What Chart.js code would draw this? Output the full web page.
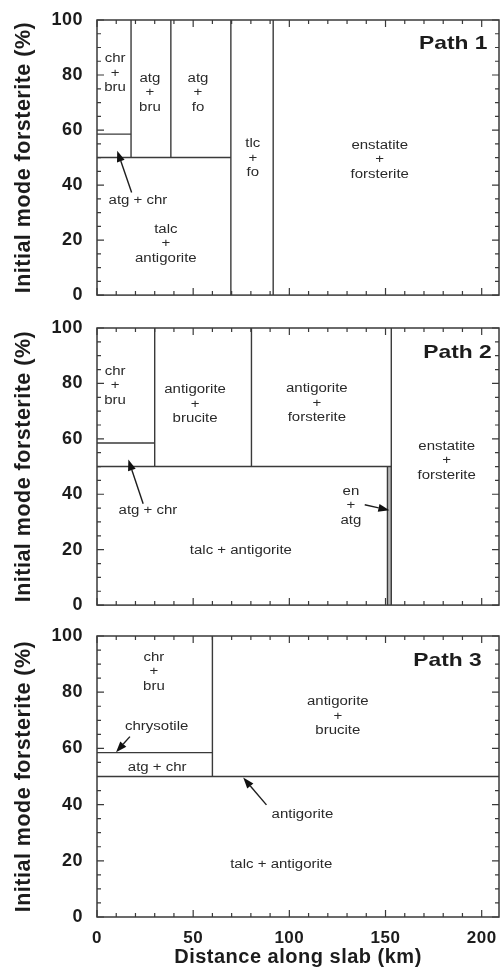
<!DOCTYPE html>
<html>
<head>
<meta charset="utf-8">
<script src="https://cdn.jsdelivr.net/npm/chart.js@4"></script>
<style>
  html, body { margin: 0; padding: 0; background: #fff; }
  body { width: 503px; height: 974px; position: relative; overflow: hidden; }
  canvas { position: absolute; left: 0; }
</style>
</head>
<body>
<canvas id="path1" width="503" height="310" style="top:0px;width:503px;height:310px"></canvas>
<canvas id="path2" width="503" height="310" style="top:310px;width:503px;height:310px"></canvas>
<canvas id="path3" width="503" height="354" style="top:620px;width:503px;height:354px"></canvas>
<script>
// Axis ranges and tick spacing
const xRange = [0, 209];
const yRange = [0, 100];
const xTickStep = 10;
const xLabelEvery = 50;
const yTickStep = 5;
const yLabelEvery = 20;
const xTitle = 'Distance along slab (km)';
const yTitle = 'Initial mode forsterite (%)';
const pathNames = ['Path 1', 'Path 2', 'Path 3'];

// Field boundaries, each [x1, y1, x2, y2] in km and % forsterite
const path1Lines = [
  [0, 58.5, 17.7, 58.5],
  [0, 50, 69.6, 50],
  [17.7, 50, 17.7, 100],
  [38.4, 50, 38.4, 100],
  [69.6, 0, 69.6, 100],
  [91.6, 0, 91.6, 100]
];
const path2Lines = [
  [0, 58.5, 30, 58.5],
  [0, 50, 153, 50],
  [30, 50, 30, 100],
  [80.3, 50, 80.3, 100],
  [151, 0, 151, 50],
  [153, 0, 153, 100]
];
const path3Lines = [
  [0, 58.5, 60, 58.5],
  [0, 50, 209, 50],
  [60, 50, 60, 100]
];

// Narrow en + atg field on path 2: [xFrom, xTo, yFrom, yTo]
const path2Strip = [151, 153, 0, 50];

// Field labels: [x, y, text lines]
const path1Labels = [
  [9.4, 80.6, ['chr', '+', 'bru']],
  [27.5, 73.5, ['atg', '+', 'bru']],
  [52.5, 73.5, ['atg', '+', 'fo']],
  [81, 49.8, ['tlc', '+', 'fo']],
  [147, 49.1, ['enstatite', '+', 'forsterite']],
  [21.3, 34.4, ['atg + chr']],
  [35.8, 18.6, ['talc', '+', 'antigorite']]
];
const path2Labels = [
  [9.4, 79.2, ['chr', '+', 'bru']],
  [51, 72.5, ['antigorite', '+', 'brucite']],
  [114.3, 72.8, ['antigorite', '+', 'forsterite']],
  [181.8, 52, ['enstatite', '+', 'forsterite']],
  [132, 35.8, ['en', '+', 'atg']],
  [74.8, 19.8, ['talc + antigorite']],
  [26.5, 34.1, ['atg + chr']]
];
const path3Labels = [
  [29.6, 87.3, ['chr', '+', 'bru']],
  [31, 67.7, ['chrysotile']],
  [31.3, 53.1, ['atg + chr']],
  [125.2, 71.5, ['antigorite', '+', 'brucite']],
  [106.8, 36.3, ['antigorite']],
  [95.8, 18.5, ['talc + antigorite']]
];

// Pointer arrows: [xTail, yTail, xTip, yTip]
const path1Arrows = [[18, 37.3, 10.5, 52.5]];
const path2Arrows = [[24, 36.6, 16.3, 52.5], [139.2, 36.2, 152, 34.2]];
const path3Arrows = [[17.1, 64.2, 9.9, 58.6], [88.1, 39.9, 76, 49.6]];

// Anchor of the path name (right edge, middle)
const pathNamePos = [[203, 91.3], [205.2, 90.9], [200, 91.2]];

const FONT = '"Liberation Sans", Arial, Helvetica, sans-serif';
const LINE = '#3a3a3a';
const TEXT = '#1c1c1c';
const LABEL = '#2a2a2a';

function decorPlugin(cfg) {
  return {
    id: 'phaseDecor',
    beforeDraw(chart) {
      chart.ctx.letterSpacing = '0.5px';
    },
    beforeDatasetsDraw(chart) {
      if (!cfg.strip) return;
      const { ctx, scales: { x, y } } = chart;
      const [x0, x1, y0, y1] = cfg.strip;
      ctx.save();
      ctx.fillStyle = '#b8b8b8';
      const px0 = x.getPixelForValue(x0), px1 = x.getPixelForValue(x1);
      const py0 = y.getPixelForValue(y0), py1 = y.getPixelForValue(y1);
      ctx.fillRect(px0, py1, px1 - px0, py0 - py1);
      ctx.restore();
    },
    afterDatasetsDraw(chart) {
      const { ctx, chartArea: a, scales: { x, y } } = chart;
      ctx.save();
      ctx.letterSpacing = '0px';

      // frame
      ctx.strokeStyle = LINE;
      ctx.lineWidth = 1.5;
      ctx.strokeRect(a.left, a.top, a.right - a.left, a.bottom - a.top);

      // inward tick marks on all four sides
      ctx.lineWidth = 1.2;
      ctx.beginPath();
      x.ticks.forEach(t => {
        const px = x.getPixelForValue(t.value);
        const len = t.value % xLabelEvery === 0 ? 7 : 4;
        ctx.moveTo(px, a.bottom); ctx.lineTo(px, a.bottom - len);
        ctx.moveTo(px, a.top); ctx.lineTo(px, a.top + len);
      });
      y.ticks.forEach(t => {
        const py = y.getPixelForValue(t.value);
        const len = t.value % yLabelEvery === 0 ? 7 : 4;
        ctx.moveTo(a.left, py); ctx.lineTo(a.left + len, py);
        ctx.moveTo(a.right, py); ctx.lineTo(a.right - len, py);
      });
      ctx.stroke();

      // field labels
      ctx.fillStyle = LABEL;
      ctx.font = '12.5px ' + FONT;
      ctx.textAlign = 'center';
      ctx.textBaseline = 'middle';
      cfg.labels.forEach(([vx, vy, lines]) => {
        const px = x.getPixelForValue(vx);
        const py = y.getPixelForValue(vy);
        lines.forEach((s, i) => {
          const ly = py + (i - (lines.length - 1) / 2) * 14.5;
          ctx.save();
          ctx.translate(px, ly);
          ctx.scale(1.2, 1);
          ctx.fillText(s, 0, 0);
          ctx.restore();
        });
      });

      // arrows
      ctx.strokeStyle = '#1e1e1e';
      ctx.fillStyle = '#111';
      ctx.lineWidth = 1.4;
      cfg.arrows.forEach(([x0, y0, x1, y1]) => {
        const ax = x.getPixelForValue(x0), ay = y.getPixelForValue(y0);
        const bx = x.getPixelForValue(x1), by = y.getPixelForValue(y1);
        const ang = Math.atan2(by - ay, bx - ax);
        const hl = 11, hw = 4;
        const cx = bx - Math.cos(ang) * hl, cy = by - Math.sin(ang) * hl;
        ctx.beginPath();
        ctx.moveTo(ax, ay); ctx.lineTo(cx, cy);
        ctx.stroke();
        ctx.beginPath();
        ctx.moveTo(bx, by);
        ctx.lineTo(cx + Math.sin(ang) * hw, cy - Math.cos(ang) * hw);
        ctx.lineTo(cx - Math.sin(ang) * hw, cy + Math.cos(ang) * hw);
        ctx.closePath();
        ctx.fill();
      });

      // path name
      ctx.fillStyle = TEXT;
      ctx.font = 'bold 19px ' + FONT;
      ctx.textAlign = 'right';
      ctx.save();
      ctx.translate(x.getPixelForValue(cfg.namePos[0]), y.getPixelForValue(cfg.namePos[1]));
      ctx.scale(1.2, 1);
      ctx.fillText(cfg.name, 0, 0);
      ctx.restore();

      ctx.restore();
    }
  };
}

function buildPanel(canvasId, lines, cfg, withXAxis, padTop, padBottom) {
  const datasets = lines.map(([x1, y1, x2, y2]) => ({
    data: [{ x: x1, y: y1 }, { x: x2, y: y2 }],
    showLine: true,
    borderColor: LINE,
    borderWidth: 1.4,
    pointRadius: 0,
    fill: false,
    tension: 0
  }));
  return new Chart(document.getElementById(canvasId), {
    type: 'scatter',
    data: { datasets },
    options: {
      responsive: false,
      animation: false,
      devicePixelRatio: 1,
      events: [],
      layout: { padding: { top: padTop, right: 4, bottom: padBottom, left: 0 } },
      plugins: { legend: { display: false }, tooltip: { enabled: false } },
      scales: {
        x: {
          type: 'linear',
          min: xRange[0],
          max: xRange[1],
          afterFit: s => { s.height = withXAxis ? 57 : 0; },
          grid: { display: false, drawTicks: false, tickLength: 0 },
          border: { display: false },
          ticks: {
            display: withXAxis,
            stepSize: xTickStep,
            includeBounds: false,
            autoSkip: false,
            maxRotation: 0,
            minRotation: 0,
            padding: 0,
            color: TEXT,
            font: { family: FONT, size: 17, weight: 'bold', lineHeight: '42px' },
            callback: v => (v % xLabelEvery === 0 ? String(v) : '')
          },
          title: {
            display: withXAxis,
            text: xTitle,
            color: TEXT,
            font: { family: FONT, size: 20, weight: 'bold' },
            padding: { top: 0, bottom: 5 }
          }
        },
        y: {
          type: 'linear',
          min: yRange[0],
          max: yRange[1],
          afterFit: s => { s.width = 97; },
          grid: { display: false, drawTicks: false, tickLength: 0 },
          border: { display: false },
          ticks: {
            stepSize: yTickStep,
            includeBounds: false,
            autoSkip: false,
            padding: 14,
            color: TEXT,
            font: { family: FONT, size: 18, weight: 'bold', lineHeight: 0.1 },
            callback: v => (v % yLabelEvery === 0 ? String(v) : '')
          },
          title: {
            display: true,
            text: yTitle,
            color: TEXT,
            font: { family: FONT, size: 21.5, weight: 'bold' },
            padding: { top: 11, bottom: 0 }
          }
        }
      }
    },
    plugins: [decorPlugin(cfg)]
  });
}

buildPanel('path1', path1Lines,
  { labels: path1Labels, arrows: path1Arrows, name: pathNames[0], namePos: pathNamePos[0] },
  false, 20, 11);
buildPanel('path2', path2Lines,
  { labels: path2Labels, arrows: path2Arrows, name: pathNames[1], namePos: pathNamePos[1], strip: path2Strip },
  false, 18, 13);
buildPanel('path3', path3Lines,
  { labels: path3Labels, arrows: path3Arrows, name: pathNames[2], namePos: pathNamePos[2] },
  true, 16, 0);
</script>
</body>
</html>
